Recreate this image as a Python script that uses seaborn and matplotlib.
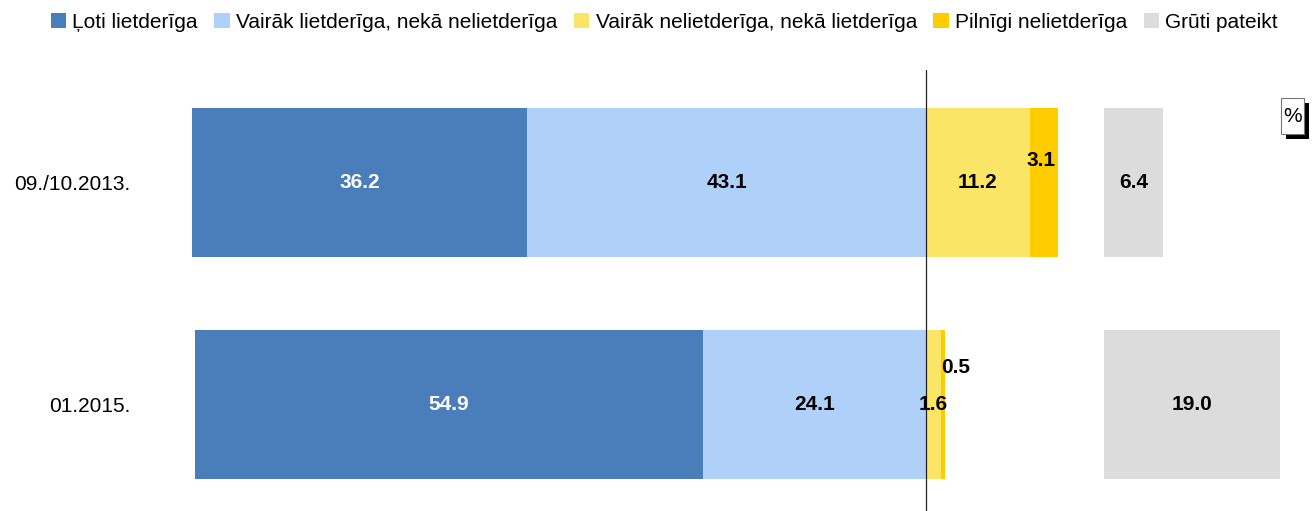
import matplotlib
matplotlib.use("Agg")
import matplotlib.pyplot as plt
import seaborn as sns
import pandas as pd
import numpy as np
from matplotlib.patches import Rectangle, Patch

periods = ["09./10.2013.", "01.2015."]
very_useful = [36.2, 54.9]
rather_useful = [43.1, 24.1]
rather_useless = [11.2, 1.6]
useless = [3.1, 0.5]
hard_to_say = [6.4, 19.0]
series_names = ["Ļoti lietderīga", "Vairāk lietderīga, nekā nelietderīga",
                "Vairāk nelietderīga, nekā lietderīga", "Pilnīgi nelietderīga",
                "Grūti pateikt"]
colors = ["#4A7EBB", "#AFD1F9", "#FBE566", "#FFCC00", "#DCDCDC"]
gray_offset = 19.2

sns.set_style("white")
plt.rcParams['font.family'] = ['Liberation Sans', 'DejaVu Sans']
plt.rcParams['text.color'] = 'black'
plt.rcParams['ytick.color'] = 'black'
plt.rcParams['ytick.labelcolor'] = 'black'

fig = plt.figure(figsize=(13.12, 5.11), dpi=100)
W, H = 1312, 511
ax = fig.add_axes([180 / W, 0, 1110 / W, (511 - 70) / H])

df = pd.DataFrame({"period": periods,
                   "left_total": -(np.array(very_useful) + np.array(rather_useful)),
                   "left_inner": -np.array(rather_useful),
                   "right_total": np.array(rather_useless) + np.array(useless),
                   "right_inner": np.array(rather_useless)})
bw = 0.671
sns.barplot(data=df, y="period", x="left_total", color=colors[0], saturation=1,
            width=bw, ax=ax, orient="h")
sns.barplot(data=df, y="period", x="left_inner", color=colors[1], saturation=1,
            width=bw, ax=ax, orient="h")
sns.barplot(data=df, y="period", x="right_total", color=colors[3], saturation=1,
            width=bw, ax=ax, orient="h")
sns.barplot(data=df, y="period", x="right_inner", color=colors[2], saturation=1,
            width=bw, ax=ax, orient="h")
ypos = np.arange(len(periods))
ax.barh(ypos, hard_to_say, left=gray_offset, height=bw, color=colors[4], linewidth=0)
for p in ax.patches:
    p.set_linewidth(0)

ax.axvline(0, color="#222222", lw=0.9, zorder=5)

ax.set_xlim(-80.6, 39.33)
ax.set_ylim(1.48, -0.507)
ax.set_xlabel("")
ax.set_ylabel("")
ax.set_xticks([])
ax.set_yticks(ypos)
ax.set_yticklabels(periods, fontsize=15, color="black")
ax.tick_params(axis="y", length=0, pad=36)
for s in ax.spines.values():
    s.set_visible(False)

fs = 15
for i in range(len(periods)):
    a, b, c, d, g = very_useful[i], rather_useful[i], rather_useless[i], useless[i], hard_to_say[i]
    ax.text(-b - a / 2, i, f"{a:.1f}", ha="center", va="center", fontsize=fs,
            fontweight="bold", color="white")
    ax.text(-b / 2, i, f"{b:.1f}", ha="center", va="center", fontsize=fs,
            fontweight="bold", color="black")
    ax.text(gray_offset + g / 2, i, f"{g:.1f}", ha="center", va="center", fontsize=fs,
            fontweight="bold", color="black")
    if c >= 5:
        ax.text(c / 2, i, f"{c:.1f}", ha="center", va="center", fontsize=fs,
                fontweight="bold", color="black")
        ax.text(c + d / 2 - 0.3, i - 0.1, f"{d:.1f}", ha="center", va="center",
                fontsize=fs, fontweight="bold", color="black")
    else:
        ax.text(c / 2, i, f"{c:.1f}", ha="center", va="center", fontsize=fs,
                fontweight="bold", color="black", zorder=6)
        ax.text(c + d / 2 + 1.4, i - 0.167, f"{d:.1f}", ha="center", va="center",
                fontsize=fs, fontweight="bold", color="black")

handles = [Patch(facecolor=col, edgecolor="none") for col in colors]
fig.legend(handles, series_names, loc="upper left", bbox_to_anchor=(38 / W, 1.0),
           ncol=5, frameon=False, fontsize=15, handlelength=0.75, handleheight=0.75,
           handletextpad=0.3, columnspacing=0.78, borderaxespad=0.2,
           labelcolor="black")

# "%" box with shadow
bx, by, bw_, bh_ = 1281, 98, 23, 36
fig.patches.append(Rectangle(((bx + 5) / W, 1 - (by + bh_ + 5) / H), bw_ / W, bh_ / H,
                             transform=fig.transFigure, facecolor="black",
                             edgecolor="none", zorder=1))
fig.patches.append(Rectangle((bx / W, 1 - (by + bh_) / H), bw_ / W, bh_ / H,
                             transform=fig.transFigure, facecolor="white",
                             edgecolor="#777777", lw=0.8, zorder=2))
fig.text((bx + bw_ / 2) / W, 1 - (by + 18) / H, "%", ha="center", va="center",
         fontsize=15, zorder=3)

fig.savefig("out.png", dpi=100)
